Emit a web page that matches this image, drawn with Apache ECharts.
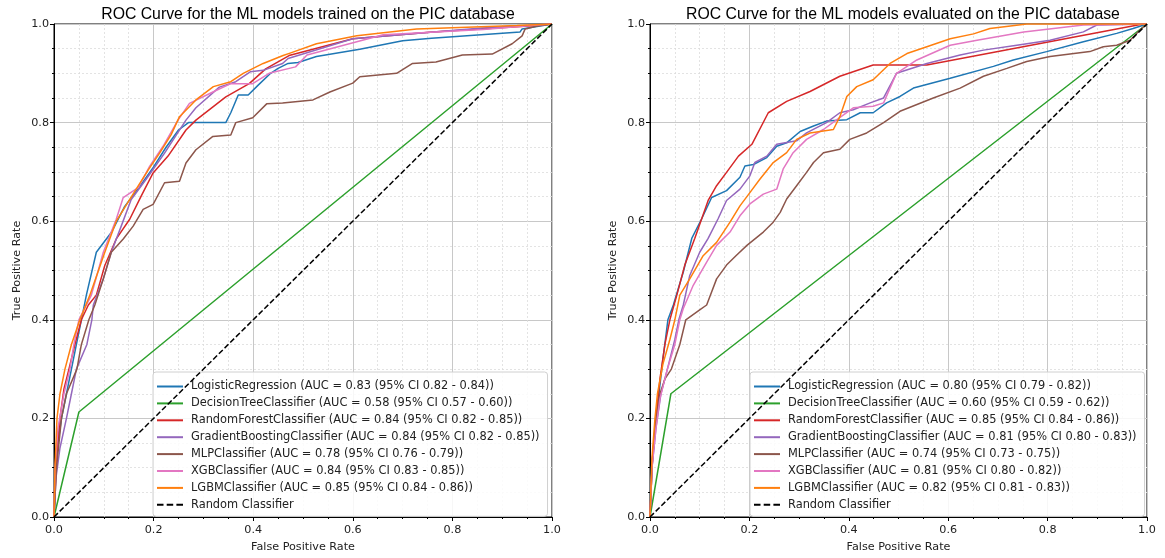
<!DOCTYPE html>
<html>
<head>
<meta charset="utf-8">
<script src="https://cdn.jsdelivr.net/npm/echarts@6/dist/echarts.min.js"></script>
<style>html,body{margin:0;padding:0;background:#fff}#c{width:1165px;height:558px}</style>
</head>
<body>
<div id="c"></div>
<script>
// ---------- DATA ----------
const titles = ['ROC Curve for the ML models trained on the PIC database',
                'ROC Curve for the ML models evaluated on the PIC database'];
const tickLabels = ['0.0','0.2','0.4','0.6','0.8','1.0'];
const modelNames = ['LogisticRegression','DecisionTreeClassifier','RandomForestClassifier',
  'GradientBoostingClassifier','MLPClassifier','XGBClassifier','LGBMClassifier'];
const trainAUC = ['0.83 (95% CI 0.82 - 0.84)','0.58 (95% CI 0.57 - 0.60)','0.84 (95% CI 0.82 - 0.85)',
  '0.84 (95% CI 0.82 - 0.85)','0.78 (95% CI 0.76 - 0.79)','0.84 (95% CI 0.83 - 0.85)','0.85 (95% CI 0.84 - 0.86)'];
const evalAUC = ['0.80 (95% CI 0.79 - 0.82)','0.60 (95% CI 0.59 - 0.62)','0.85 (95% CI 0.84 - 0.86)',
  '0.81 (95% CI 0.80 - 0.83)','0.74 (95% CI 0.73 - 0.75)','0.81 (95% CI 0.80 - 0.82)','0.82 (95% CI 0.81 - 0.83)'];
const randomLabel = 'Random Classifier';
const randomLine = [[0,0],[1,1]];

// training curves [fpr, tpr]
const trainLR = [[0,0],[0.003,0.08],[0.008,0.15],[0.015,0.2],[0.025,0.25],[0.035,0.3],[0.045,0.35],[0.055,0.4],[0.065,0.45],
  [0.085,0.537],[0.115,0.577],[0.142,0.63],[0.172,0.67],[0.2,0.71],[0.225,0.75],[0.25,0.785],[0.27,0.8],[0.345,0.8],
  [0.355,0.82],[0.37,0.856],[0.39,0.856],[0.41,0.876],[0.435,0.9],[0.45,0.91],[0.47,0.92],[0.49,0.922],[0.527,0.934],
  [0.614,0.949],[0.70,0.966],[0.758,0.971],[0.936,0.984],[0.94,0.99],[1,1]];
const trainDT = [[0,0],[0.05,0.213],[1,1]];
const trainRF = [[0,0],[0.005,0.12],[0.012,0.2],[0.02,0.26],[0.03,0.3],[0.042,0.35],[0.055,0.4],[0.069,0.43],[0.085,0.45],
  [0.102,0.51],[0.125,0.564],[0.152,0.604],[0.175,0.651],[0.199,0.698],[0.229,0.732],[0.265,0.785],[0.285,0.805],
  [0.345,0.852],[0.392,0.879],[0.425,0.909],[0.472,0.936],[0.60,0.97],[0.76,0.984],[0.97,0.997],[1,1]];
const trainGB = [[0,0],[0.004,0.08],[0.012,0.14],[0.025,0.2],[0.035,0.25],[0.045,0.3],[0.066,0.35],[0.076,0.4],[0.079,0.43],
  [0.099,0.483],[0.115,0.537],[0.135,0.59],[0.155,0.644],[0.185,0.685],[0.222,0.738],[0.249,0.78],[0.265,0.805],
  [0.285,0.83],[0.332,0.872],[0.365,0.883],[0.394,0.903],[0.42,0.906],[0.459,0.92],[0.47,0.93],[0.60,0.97],
  [0.72,0.98],[0.86,0.992],[1,1]];
const trainMLP = [[0,0],[0.005,0.1],[0.015,0.2],[0.025,0.25],[0.046,0.3],[0.055,0.35],[0.07,0.4],[0.082,0.43],[0.099,0.483],
  [0.115,0.537],[0.139,0.564],[0.159,0.59],[0.179,0.624],[0.199,0.634],[0.222,0.678],[0.252,0.681],[0.265,0.718],
  [0.285,0.745],[0.319,0.772],[0.355,0.775],[0.365,0.8],[0.399,0.81],[0.427,0.838],[0.459,0.84],[0.52,0.846],
  [0.554,0.862],[0.60,0.88],[0.614,0.893],[0.688,0.9],[0.72,0.92],[0.767,0.923],[0.82,0.937],[0.88,0.939],
  [0.92,0.96],[0.94,0.976],[0.946,0.99],[0.97,0.996],[1,1]];
const trainXGB = [[0,0],[0.002,0.1],[0.008,0.18],[0.02,0.25],[0.032,0.3],[0.04,0.35],[0.05,0.4],[0.075,0.45],[0.099,0.537],
  [0.125,0.604],[0.139,0.648],[0.169,0.668],[0.192,0.711],[0.219,0.752],[0.249,0.805],[0.272,0.839],[0.319,0.862],
  [0.355,0.879],[0.399,0.879],[0.432,0.9],[0.485,0.913],[0.508,0.937],[0.661,0.978],[0.862,0.989],[0.97,0.998],[1,1]];
const trainLGBM = [[0,0],[0.002,0.1],[0.006,0.2],[0.012,0.25],[0.022,0.3],[0.035,0.35],[0.052,0.4],[0.072,0.45],[0.102,0.537],
  [0.125,0.6],[0.165,0.665],[0.19,0.705],[0.212,0.738],[0.235,0.775],[0.252,0.812],[0.285,0.846],[0.32,0.873],
  [0.355,0.883],[0.38,0.9],[0.42,0.92],[0.46,0.936],[0.474,0.941],[0.527,0.96],[0.608,0.976],[0.728,0.99],[0.93,0.997],[1,1]];

// evaluation curves [fpr, tpr]
const evalLR = [[0,0],[0.003,0.1],[0.01,0.17],[0.018,0.25],[0.026,0.32],[0.036,0.4],[0.047,0.43],[0.067,0.497],[0.084,0.565],
  [0.104,0.605],[0.124,0.648],[0.154,0.662],[0.181,0.689],[0.191,0.712],[0.208,0.715],[0.235,0.729],[0.255,0.752],
  [0.275,0.759],[0.302,0.782],[0.329,0.793],[0.355,0.803],[0.396,0.806],[0.423,0.82],[0.449,0.82],[0.476,0.84],
  [0.503,0.853],[0.53,0.87],[0.604,0.89],[0.691,0.914],[0.731,0.927],[0.798,0.944],[0.872,0.964],[0.939,0.981],
  [0.972,0.991],[1,1]];
const evalDT = [[0,0],[0.042,0.25],[1,1]];
const evalRF = [[0,0],[0.005,0.12],[0.012,0.2],[0.02,0.28],[0.03,0.35],[0.04,0.4],[0.054,0.45],[0.07,0.511],[0.09,0.565],
  [0.117,0.642],[0.134,0.672],[0.154,0.699],[0.178,0.732],[0.205,0.756],[0.238,0.82],[0.275,0.843],[0.322,0.863],
  [0.382,0.894],[0.449,0.917],[0.557,0.917],[0.992,1],[1,1]];
const evalGB = [[0,0],[0.004,0.1],[0.012,0.18],[0.022,0.25],[0.035,0.3],[0.05,0.36],[0.058,0.4],[0.067,0.43],[0.08,0.49],
  [0.1,0.537],[0.117,0.565],[0.137,0.605],[0.154,0.642],[0.181,0.665],[0.201,0.692],[0.211,0.719],[0.235,0.732],
  [0.255,0.756],[0.295,0.763],[0.315,0.779],[0.355,0.8],[0.382,0.82],[0.409,0.826],[0.443,0.84],[0.47,0.85],
  [0.496,0.9],[0.557,0.92],[0.624,0.937],[0.671,0.947],[0.738,0.957],[0.805,0.967],[0.872,0.984],[0.899,0.998],[1,1]];
const evalMLP = [[0,0],[0.004,0.1],[0.01,0.18],[0.02,0.25],[0.03,0.28],[0.043,0.3],[0.06,0.35],[0.072,0.4],[0.1,0.42],
  [0.114,0.43],[0.134,0.483],[0.154,0.511],[0.174,0.531],[0.195,0.551],[0.228,0.578],[0.248,0.598],[0.262,0.618],
  [0.275,0.645],[0.295,0.672],[0.315,0.699],[0.329,0.719],[0.349,0.739],[0.382,0.746],[0.402,0.766],[0.436,0.779],
  [0.47,0.8],[0.503,0.823],[0.57,0.85],[0.624,0.87],[0.671,0.894],[0.718,0.91],[0.758,0.924],[0.805,0.934],
  [0.885,0.944],[0.912,0.954],[0.939,0.957],[0.966,0.967],[0.986,0.988],[1,1]];
const evalXGB = [[0,0],[0.004,0.1],[0.012,0.18],[0.02,0.24],[0.035,0.3],[0.05,0.35],[0.06,0.4],[0.067,0.423],[0.087,0.47],
  [0.114,0.517],[0.134,0.551],[0.161,0.578],[0.181,0.611],[0.201,0.635],[0.228,0.655],[0.255,0.665],[0.268,0.706],
  [0.288,0.739],[0.315,0.766],[0.349,0.786],[0.376,0.806],[0.409,0.83],[0.449,0.833],[0.47,0.84],[0.496,0.9],
  [0.537,0.927],[0.604,0.957],[0.658,0.967],[0.752,0.984],[0.872,0.998],[1,1]];
const evalLGBM = [[0,0],[0.004,0.12],[0.01,0.2],[0.015,0.25],[0.026,0.31],[0.04,0.36],[0.05,0.4],[0.06,0.45],[0.08,0.483],
  [0.107,0.53],[0.134,0.557],[0.161,0.598],[0.181,0.631],[0.201,0.658],[0.221,0.685],[0.248,0.719],[0.275,0.739],
  [0.295,0.766],[0.322,0.779],[0.369,0.786],[0.382,0.812],[0.396,0.853],[0.416,0.873],[0.449,0.887],[0.483,0.92],
  [0.517,0.94],[0.557,0.954],[0.604,0.97],[0.651,0.98],[0.684,0.991],[0.758,1],[1,1]];

const trainCurves = [trainLR, trainDT, trainRF, trainGB, trainMLP, trainXGB, trainLGBM];
const evalCurves = [evalLR, evalDT, evalRF, evalGB, evalMLP, evalXGB, evalLGBM];

// ---------- STYLE ----------
const colors = ['#1f77b4','#2ca02c','#d62728','#9467bd','#8c564b','#e377c2','#ff7f0e'];
const grids = [
  {left:54, right:613, top:24, bottom:38},
  {left:650, right:18, top:24, bottom:38}
];
const FONT = 'DejaVu Sans';
const solidIcon = 'path://M0,0 L26,0 L26,2 L0,2 Z';
const dashIcon = 'path://M0,0h6.5v2h-6.5z M9.7,0h6.5v2h-6.5z M19.4,0h6.6v2h-6.6z';

function axis(gi, isX) {
  return {
    type:'value', gridIndex:gi, min:0, max:1, interval:0.2,
    name: isX ? 'False Positive Rate' : 'True Positive Rate',
    nameLocation:'middle', nameGap: isX ? 25 : 31,
    nameTextStyle:{fontFamily:FONT, fontSize:11.2, color:'#222'},
    axisLine:{show:true, onZero:false, lineStyle:{color:'#000', width:1}},
    axisTick:{show:true, length:4, lineStyle:{color:'#000'}},
    minorTick:{show:true, splitNumber:4, length:2, lineStyle:{color:'#000'}},
    axisLabel:{fontFamily:FONT, fontSize:11.2, color:'#222', margin: isX ? 8 : 5,
      formatter: v => tickLabels[Math.round(v/0.2)]},
    splitLine:{show:true, lineStyle:{color:'#c8c8c8', width:1}},
    minorSplitLine:{show:true, lineStyle:{color:'#dcdcdc', width:0.8, type:[2,2]}}
  };
}

const series = [];
const legends = [];
[[trainCurves, trainAUC], [evalCurves, evalAUC]].forEach(([curves, aucs], gi) => {
  const items = [];
  curves.forEach((c, i) => {
    const nm = modelNames[i] + ' (AUC = ' + aucs[i] + ')';
    items.push({name:nm, icon:solidIcon});
    series.push({
      type:'line', name:nm, xAxisIndex:gi, yAxisIndex:gi, data:c,
      symbol:'none', showSymbol:false, smooth:false, animation:false,
      lineStyle:{color:colors[i], width:1.5}, itemStyle:{color:colors[i]}, z:2+i
    });
  });
  const rn = randomLabel + (gi ? ' ' : '');
  items.push({name:rn, icon:dashIcon});
  series.push({
    type:'line', name:rn, xAxisIndex:gi, yAxisIndex:gi, data:randomLine,
    symbol:'none', showSymbol:false, animation:false,
    lineStyle:{color:'#000', width:1.5, type:[5.5,2.5]}, itemStyle:{color:'#000'}, z:10
  });
  legends.push({
    data: items, orient:'vertical',
    left: gi ? 750 : 153, top: 372,
    itemWidth:26, itemHeight:2, itemGap:5.9,
    padding:[9,8,6,4],
    borderColor:'#d0d0d0', borderWidth:1, borderRadius:3,
    backgroundColor:'rgba(255,255,255,0.85)',
    textStyle:{fontFamily:FONT, fontSize:11.4, color:'#222', padding:[0,0,0,3]},
    selectedMode:false
  });
});

const option = {
  backgroundColor:'#fff',
  animation:false,
  title: titles.map((t, i) => ({
    text:t, left: i ? 898 : 303, top: 2, textAlign:'center',
    textStyle:{fontFamily:'Liberation Sans', fontSize:15.8, fontWeight:'normal', color:'#000'}
  })),
  grid: grids.map(g => Object.assign({show:true, borderColor:'#000', borderWidth:1, backgroundColor:'transparent', containLabel:false}, g)),
  xAxis: [axis(0,true), axis(1,true)],
  yAxis: [axis(0,false), axis(1,false)],
  legend: legends,
  series: series
};

const chart = echarts.init(document.getElementById('c'), null, {renderer:'canvas'});
chart.setOption(option);
</script>
</body>
</html>
